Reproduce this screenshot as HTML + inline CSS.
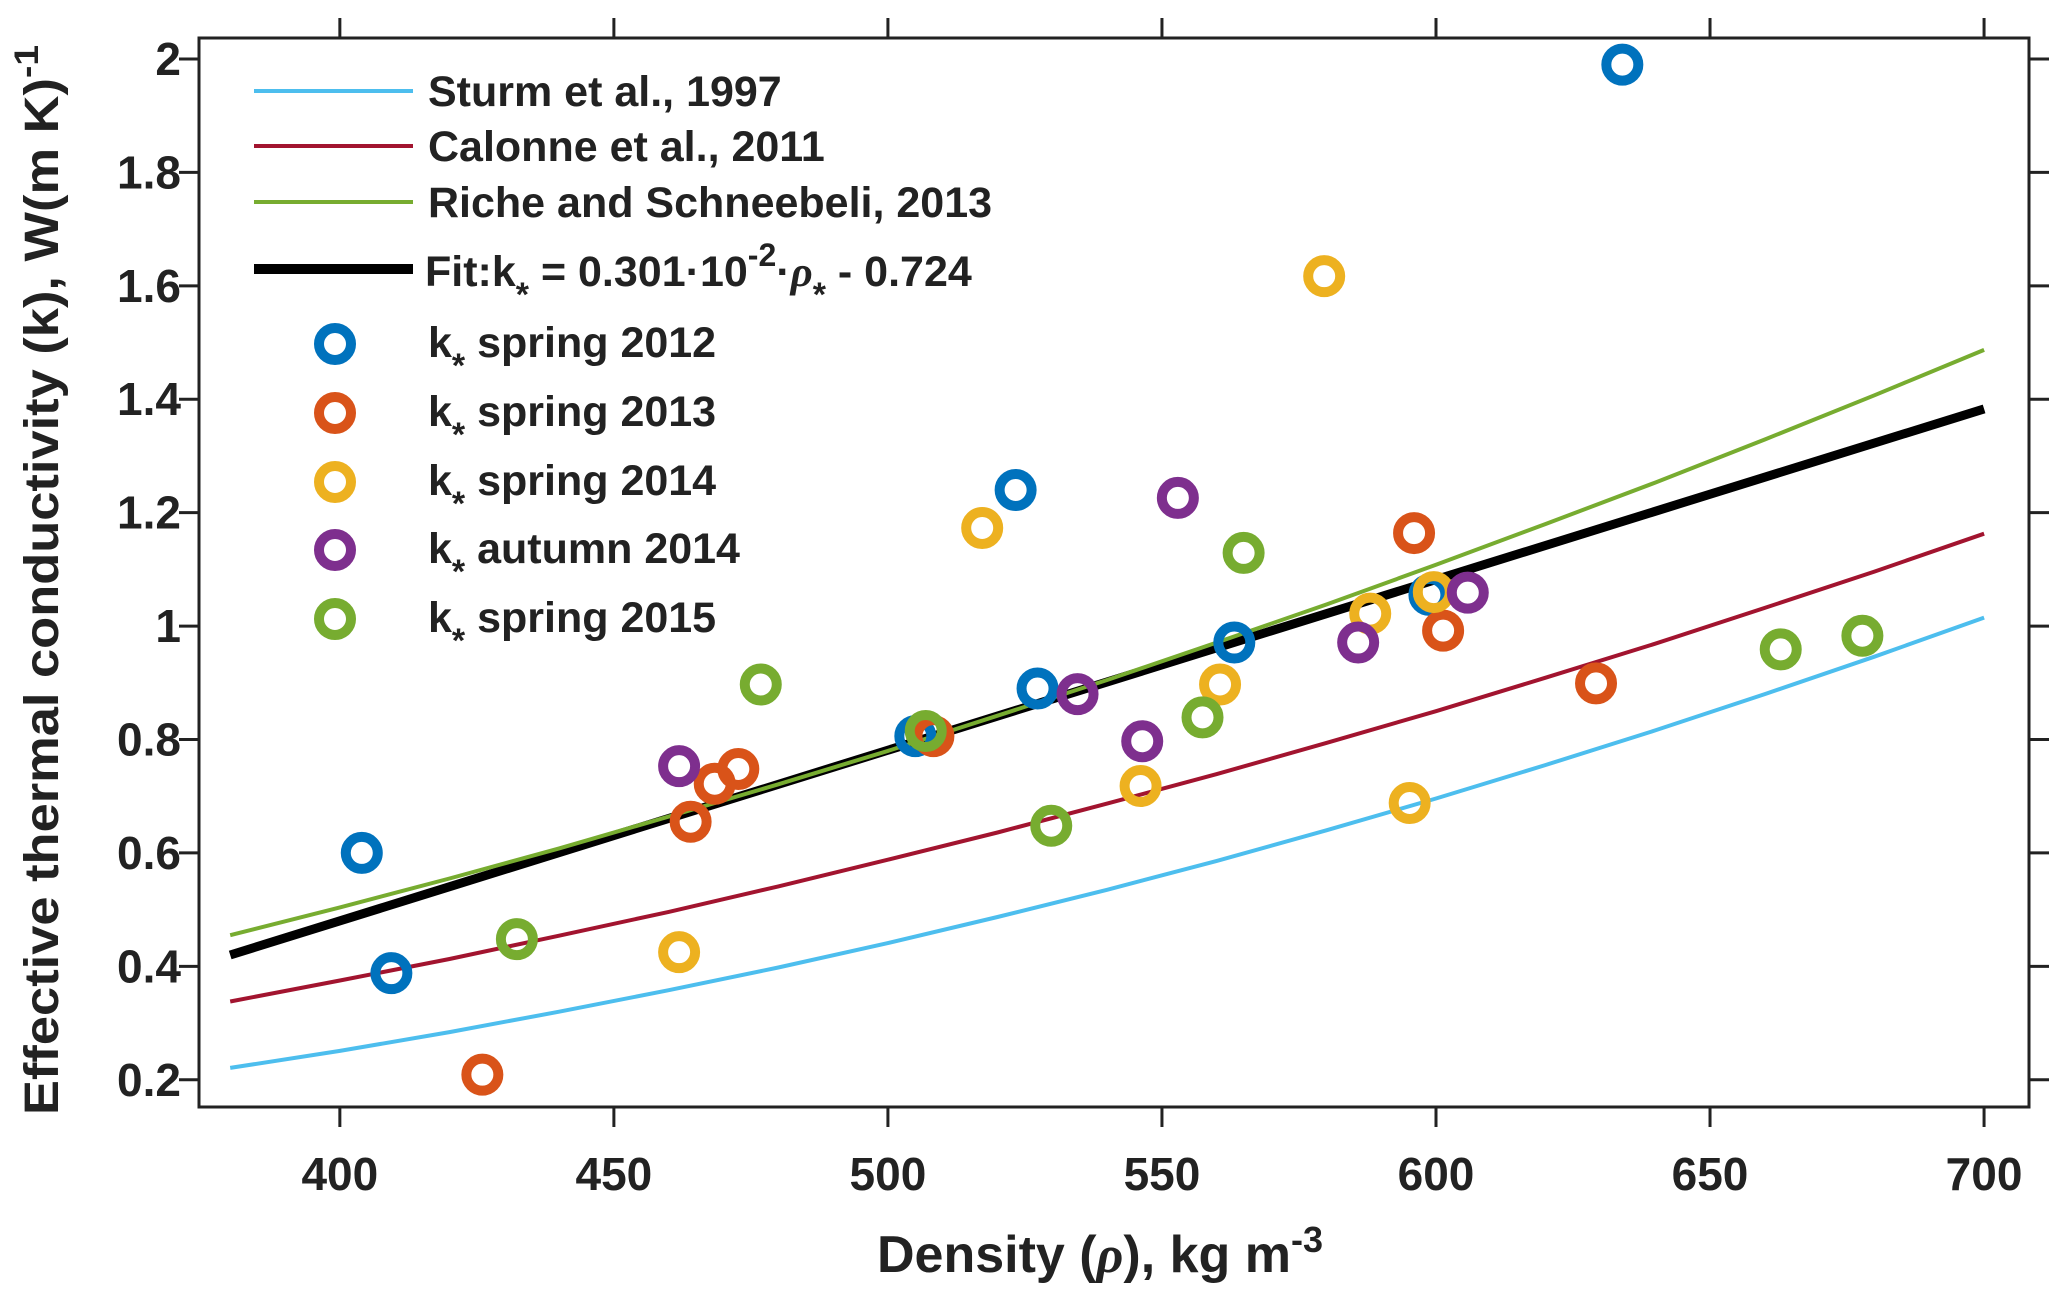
<!DOCTYPE html>
<html><head><meta charset="utf-8"><style>
html,body{margin:0;padding:0;background:#fff}
svg{display:block}
text{font-family:"Liberation Sans",Arial,sans-serif;font-weight:bold;fill:#222}
</style></head><body>
<svg id="chart" width="2067" height="1301" viewBox="0 0 2067 1301" xmlns="http://www.w3.org/2000/svg">
<rect width="2067" height="1301" fill="#fff"/>
<g id="curves"></g>
<g id="pts"></g>
<g id="axes"></g>
<g id="legend"></g>
</svg>
<script>
const xTicks=[400,450,500,550,600,650,700];
const yTicks=[0.2,0.4,0.6,0.8,1,1.2,1.4,1.6,1.8,2];
const curveDens=[380,400,420,440,460,480,500,520,540,560,580,600,620,640,660,680,700];
const sturmVals=[0.221,0.251,0.284,0.320,0.358,0.398,0.441,0.487,0.535,0.586,0.640,0.696,0.755,0.816,0.880,0.946,1.015];
const calonneVals=[0.338,0.375,0.413,0.454,0.496,0.541,0.588,0.636,0.687,0.739,0.794,0.850,0.909,0.969,1.032,1.096,1.163];
const richeVals=[0.455,0.504,0.555,0.608,0.664,0.721,0.780,0.842,0.905,0.971,1.038,1.108,1.180,1.253,1.329,1.407,1.487];
const fitDens=[380,700];
const fitVals=[0.420,1.383];
const s2012x=[634,523.3,404,409.4,505,527.3,563.2,598.8];
const s2012y=[1.99,1.24,0.60,0.388,0.806,0.89,0.971,1.055];
const s2013x=[426,464,468.4,472.7,508.3,596,601.3,629.2];
const s2013y=[0.209,0.655,0.722,0.748,0.806,1.164,0.992,0.899];
const s2014x=[579.6,517.2,461.9,546.1,560.6,588,595.2,599.6];
const s2014y=[1.617,1.173,0.425,0.718,0.897,1.022,0.688,1.06];
const a2014x=[552.9,461.9,534.6,546.4,585.8,605.8];
const a2014y=[1.226,0.753,0.880,0.797,0.971,1.059];
const s2015x=[476.8,432.3,506.9,529.8,557.4,564.9,662.9,677.8];
const s2015y=[0.897,0.448,0.815,0.648,0.839,1.129,0.959,0.983];

const L=199,R=2029,T=38,B=1107;
const X0=374.3,X1=708.2,Y0=0.152,Y1=2.037;
const sx=v=>L+(v-X0)/(X1-X0)*(R-L);
const sy=v=>B-(v-Y0)/(Y1-Y0)*(B-T);
const NS='http://www.w3.org/2000/svg';
function mk(tag,attrs,parent){const e=document.createElementNS(NS,tag);for(const k in attrs)e.setAttribute(k,attrs[k]);parent.appendChild(e);return e;}

const curves=document.getElementById('curves');
function line(xs,ys,color,w,name){
  const d=xs.map((x,i)=>(i?'L':'M')+sx(x).toFixed(1)+' '+sy(ys[i]).toFixed(1)).join(' ');
  const p=mk('path',{d:d,fill:'none',stroke:color,'stroke-width':w},curves);
  
  
}
line(curveDens,sturmVals,'#4DBEEE',4,'sturm-1997-curve');
line(curveDens,calonneVals,'#A2142F',4,'calonne-2011-curve');
line(fitDens,fitVals,'#000',9,'fit-line');
line(curveDens,richeVals,'#77AC30',4,'riche-2013-curve');

const pts=document.getElementById('pts');
function scatter(xs,ys,color,name){
  xs.forEach((x,i)=>{
    const c=mk('circle',{cx:sx(x),cy:sy(ys[i]),r:16,fill:'none',stroke:color,'stroke-width':10},pts);
    
    
  });
}
scatter(s2012x,s2012y,'#0072BD','point-spring-2012');
scatter(s2013x,s2013y,'#D95319','point-spring-2013');
scatter(s2014x,s2014y,'#EDB120','point-spring-2014');
scatter(a2014x,a2014y,'#7E2F8E','point-autumn-2014');
scatter(s2015x,s2015y,'#77AC30','point-spring-2015');

const ax=document.getElementById('axes');
const frame=mk('rect',{x:L,y:T,width:R-L,height:B-T,fill:'none',stroke:'#222','stroke-width':3},ax);


xTicks.forEach(v=>{
  const x=sx(v);
  mk('line',{x1:x,x2:x,y1:B,y2:B+20,stroke:'#222','stroke-width':3},ax);
  mk('line',{x1:x,x2:x,y1:T,y2:T-20,stroke:'#222','stroke-width':3},ax);
  const t=mk('text',{x:x,y:1190,'font-size':46,'text-anchor':'middle'},ax);
  t.textContent=v;
  
  
});
yTicks.forEach(v=>{
  const y=sy(v);
  mk('line',{x1:L,x2:L-20,y1:y,y2:y,stroke:'#222','stroke-width':3},ax);
  mk('line',{x1:R,x2:R+20,y1:y,y2:y,stroke:'#222','stroke-width':3},ax);
  const t=mk('text',{x:181,y:y+16,'font-size':46,'text-anchor':'end'},ax);
  t.textContent=v;
  
  
});
</script>
<svg style="position:absolute;left:0;top:0" width="2067" height="1301" xmlns="http://www.w3.org/2000/svg">
<text x="1100" y="1272" font-size="52" text-anchor="middle">Density (<tspan font-family="Liberation Serif" font-style="italic">ρ</tspan>), kg m<tspan dy="-20" font-size="36">-3</tspan></text>
<text transform="translate(58,580) rotate(-90)" font-size="48" text-anchor="middle" textLength="1070" lengthAdjust="spacingAndGlyphs">Effective thermal conductivity (k), W(m K)<tspan dy="-20" font-size="34">-1</tspan></text>
<g>
<line x1="254" x2="413" y1="91" y2="91" stroke="#4DBEEE" stroke-width="4"/>
<text x="428" y="106" font-size="43">Sturm et al., 1997</text>
<line x1="254" x2="413" y1="146" y2="146" stroke="#A2142F" stroke-width="4"/>
<text x="428" y="161" font-size="43">Calonne et al., 2011</text>
<line x1="254" x2="413" y1="202" y2="202" stroke="#77AC30" stroke-width="4"/>
<text x="428" y="217" font-size="43">Riche and Schneebeli, 2013</text>
<line x1="254" x2="413" y1="269" y2="269" stroke="#000" stroke-width="10"/>
<text x="425" y="286" font-size="43">Fit:k<tspan dy="20" font-size="34">*</tspan><tspan dy="-20"> = 0.301·10</tspan><tspan dy="-20" font-size="32">-2</tspan><tspan dy="20">·</tspan><tspan font-family="Liberation Serif" font-style="italic">ρ</tspan><tspan dy="20" font-size="34">*</tspan><tspan dy="-20"> - 0.724</tspan></text>
<circle cx="335" cy="344" r="16" fill="none" stroke="#0072BD" stroke-width="10"/>
<text x="428" y="357" font-size="43">k<tspan dy="20" font-size="34">*</tspan><tspan dy="-20"> spring 2012</tspan></text>
<circle cx="335" cy="413" r="16" fill="none" stroke="#D95319" stroke-width="10"/>
<text x="428" y="426" font-size="43">k<tspan dy="20" font-size="34">*</tspan><tspan dy="-20"> spring 2013</tspan></text>
<circle cx="335" cy="482" r="16" fill="none" stroke="#EDB120" stroke-width="10"/>
<text x="428" y="495" font-size="43">k<tspan dy="20" font-size="34">*</tspan><tspan dy="-20"> spring 2014</tspan></text>
<circle cx="335" cy="550" r="16" fill="none" stroke="#7E2F8E" stroke-width="10"/>
<text x="428" y="563" font-size="43">k<tspan dy="20" font-size="34">*</tspan><tspan dy="-20"> autumn 2014</tspan></text>
<circle cx="335" cy="619" r="16" fill="none" stroke="#77AC30" stroke-width="10"/>
<text x="428" y="632" font-size="43">k<tspan dy="20" font-size="34">*</tspan><tspan dy="-20"> spring 2015</tspan></text>
</g>
</svg>
</body></html>
